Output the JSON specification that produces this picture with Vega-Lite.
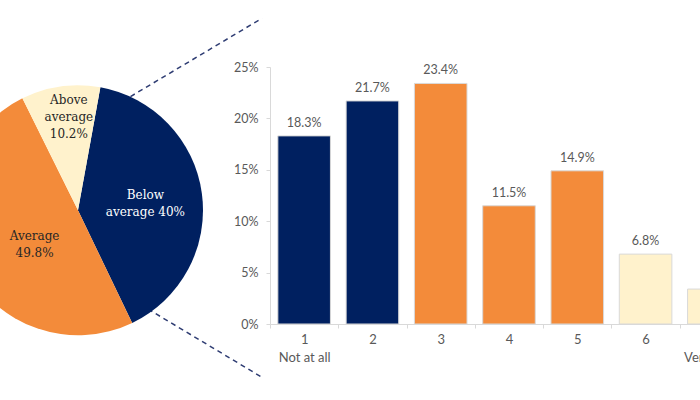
{
  "$schema": "https://vega.github.io/schema/vega-lite/v6.json",
  "padding": {"left": -47, "top": 17, "right": -48, "bottom": 20},
  "bounds": "flush",
  "spacing": 67,
  "background": "white",
  "config": {"view": {"stroke": null}},
  "hconcat": [
    {
      "width": 250,
      "height": 257,
      "data": {"values": [
        {"grp": "Below average", "ord": 1, "pct": 40.0, "label": ["Below", "average 40%"]},
        {"grp": "Average", "ord": 2, "pct": 49.8, "label": ["Average", "49.8%"]},
        {"grp": "Above average", "ord": 3, "pct": 10.2, "label": ["Above", "average", "10.2%"]}
      ]},
      "layer": [
        {
          "data": {"values": [{"line": "top"}]},
          "mark": {"type": "rule", "color": "#2F3D73", "strokeWidth": 1.5, "strokeDash": [5, 4]},
          "encoding": {
            "x": {"datum": 0.42, "type": "quantitative", "scale": {"domain": [-1, 1], "nice": false, "zero": false}, "axis": null},
            "y": {"datum": 0.91, "type": "quantitative", "scale": {"domain": [-0.9096, 1.1464], "nice": false, "zero": false}, "axis": null},
            "x2": {"datum": 1.472},
            "y2": {"datum": 1.536}
          }
        },
        {
          "data": {"values": [{"line": "bottom"}]},
          "mark": {"type": "rule", "color": "#2F3D73", "strokeWidth": 1.5, "strokeDash": [5, 4]},
          "encoding": {
            "x": {"datum": 0.56, "type": "quantitative", "scale": {"domain": [-1, 1], "nice": false, "zero": false}, "axis": null},
            "y": {"datum": -0.79, "type": "quantitative", "scale": {"domain": [-0.9096, 1.1464], "nice": false, "zero": false}, "axis": null},
            "x2": {"datum": 1.472},
            "y2": {"datum": -1.336}
          }
        },
        {
          "mark": {"type": "arc", "outerRadius": 125},
          "encoding": {
            "x": {"datum": 0, "type": "quantitative", "scale": {"domain": [-1, 1], "nice": false, "zero": false}, "axis": null},
            "y": {"datum": 0, "type": "quantitative", "scale": {"domain": [-0.9096, 1.1464], "nice": false, "zero": false}, "axis": null},
            "theta": {"field": "pct", "type": "quantitative", "stack": true, "scale": {"range": [0.18, 6.4632]}},
            "order": {"field": "ord", "type": "quantitative"},
            "color": {"field": "grp", "type": "nominal", "scale": {"domain": ["Below average", "Average", "Above average"], "range": ["#002060", "#F38B3A", "#FFF2CC"]}, "legend": null}
          }
        },
        {
          "mark": {"type": "text", "radius": 68, "dy": -6, "font": "DejaVu Serif", "fontSize": 12, "lineHeight": 17, "align": "center", "baseline": "middle", "color": "white"},
          "encoding": {
            "x": {"datum": 0, "type": "quantitative"},
            "y": {"datum": 0, "type": "quantitative"},
            "theta": {"field": "pct", "type": "quantitative", "stack": true},
            "order": {"field": "ord", "type": "quantitative"},
            "text": {"condition": {"test": "datum.grp === 'Below average'", "field": "label"}, "value": ""}
          }
        },
        {
          "mark": {"type": "text", "radius": 55, "dx": 6, "dy": 2, "font": "DejaVu Serif", "fontSize": 12, "lineHeight": 17, "align": "center", "baseline": "middle", "color": "#262626"},
          "encoding": {
            "x": {"datum": 0, "type": "quantitative"},
            "y": {"datum": 0, "type": "quantitative"},
            "theta": {"field": "pct", "type": "quantitative", "stack": true},
            "order": {"field": "ord", "type": "quantitative"},
            "text": {"condition": {"test": "datum.grp === 'Average'", "field": "label"}, "value": ""}
          }
        },
        {
          "mark": {"type": "text", "radius": 94, "dx": 4, "dy": -17, "font": "DejaVu Serif", "fontSize": 12, "lineHeight": 17, "align": "center", "baseline": "middle", "color": "#262626"},
          "encoding": {
            "x": {"datum": 0, "type": "quantitative"},
            "y": {"datum": 0, "type": "quantitative"},
            "theta": {"field": "pct", "type": "quantitative", "stack": true},
            "order": {"field": "ord", "type": "quantitative"},
            "text": {"condition": {"test": "datum.grp === 'Above average'", "field": "label"}, "value": ""}
          }
        }
      ]
    },
    {
      "width": 478,
      "height": 257,
      "data": {"values": [
        {"cat": "1", "value": 0.183, "grp": "Below average"},
        {"cat": "2", "value": 0.217, "grp": "Below average"},
        {"cat": "3", "value": 0.234, "grp": "Average"},
        {"cat": "4", "value": 0.115, "grp": "Average"},
        {"cat": "5", "value": 0.149, "grp": "Average"},
        {"cat": "6", "value": 0.068, "grp": "Above average"},
        {"cat": "7", "value": 0.034, "grp": "Above average"}
      ]},
      "encoding": {
        "x": {
          "field": "cat", "type": "ordinal",
          "scale": {"paddingInner": 0, "paddingOuter": 0},
          "axis": {
            "title": null, "labelAngle": 0, "tickBand": "extent", "tickSize": 4,
            "domainColor": "#D9D9D9", "tickColor": "#D9D9D9",
            "labelColor": "#595959", "labelFont": "Lato", "labelFontSize": 13,
            "labelPadding": 5, "labelLineHeight": 18,
            "labelExpr": "datum.value == '1' ? ['1', 'Not at all'] : datum.value == '7' ? ['7', 'Very much'] : datum.label"
          }
        },
        "y": {
          "field": "value", "type": "quantitative",
          "scale": {"domain": [0, 0.25], "nice": false},
          "axis": {
            "title": null, "values": [0, 0.05, 0.1, 0.15, 0.2, 0.25], "format": ".0%",
            "grid": false, "tickSize": 4, "labelPadding": 8,
            "domainColor": "#D9D9D9", "tickColor": "#D9D9D9",
            "labelColor": "#595959", "labelFont": "Lato", "labelFontSize": 12.5
          }
        }
      },
      "layer": [
        {
          "mark": {"type": "bar", "width": {"band": 0.77}, "stroke": "#D9D9D9", "strokeWidth": 1},
          "encoding": {
            "color": {"field": "grp", "type": "nominal", "scale": {"domain": ["Below average", "Average", "Above average"], "range": ["#002060", "#F38B3A", "#FFF2CC"]}, "legend": null}
          }
        },
        {
          "mark": {"type": "text", "dy": -13, "font": "Lato", "fontSize": 12.5, "color": "#595959", "baseline": "middle"},
          "encoding": {"text": {"field": "value", "type": "quantitative", "format": ".1%"}}
        }
      ]
    }
  ]
}
